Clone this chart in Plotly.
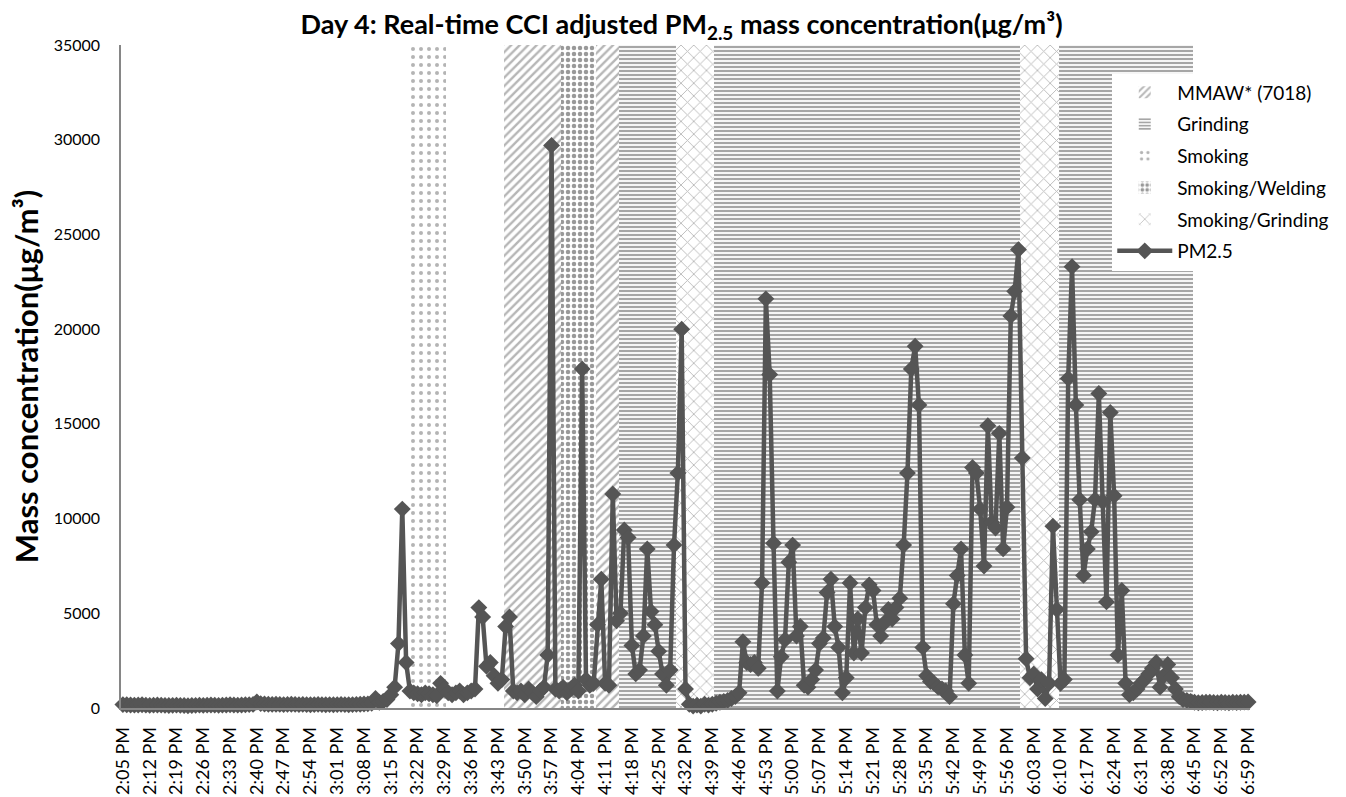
import plotly.graph_objects as go

# ---------------- categories (one per minute, 2:05 PM .. 6:59 PM) ----------------
start_hour, start_min, n_minutes = 14, 5, 295
times = []
for k in range(n_minutes):
    total = start_hour * 60 + start_min + k
    h, m = divmod(total, 60)
    times.append(f"{h - 12}:{m:02d} PM")

tick_step = 7
tick_labels = times[::tick_step]

y_ticks = [0, 5000, 10000, 15000, 20000, 25000, 30000, 35000]
y_tick_labels = ["0", "5000", "10000", "15000", "20000", "25000", "30000", "35000"]

# ---------------- PM2.5 series (µg/m³) ----------------
pm25 = [
    # 2:05 - 2:39
    180, 170, 160, 150, 160, 170, 150, 140, 150, 160,
    150, 140, 130, 140, 150, 140, 130, 120, 130, 140,
    150, 140, 150, 160, 150, 140, 150, 160, 170, 160,
    150, 160, 170, 180, 190,
    # 2:40
    320,
    # 2:41 - 3:09
    230, 210, 200, 190, 200, 190, 180, 190, 200, 190,
    180, 190, 180, 170, 180, 190, 180, 170, 180, 170,
    180, 190, 180, 170, 180, 190, 200, 210, 220,
    # 3:10 - 3:19
    250, 500, 300, 350, 450, 700, 1100, 3400, 10500, 2400,
    # 3:20 - 3:37
    900, 800, 750, 700, 800, 750, 700, 650, 1300, 1000,
    800, 700, 800, 900, 700, 800, 900, 1000,
    # 3:38 - 3:47
    5300, 4800, 2200, 2400, 1700, 1300, 1500, 4300, 4800, 900,
    # 3:48 - 3:56
    800, 900, 700, 1000, 800, 600, 900, 1100, 2800,
    # 3:57
    29700,
    # 3:58 - 4:04
    1000, 900, 1100, 800, 1000, 1200, 900,
    # 4:05
    17900,
    # 4:06 - 4:12
    1500, 1200, 1300, 4400, 6800, 1300, 1200,
    # 4:13 - 4:31
    11300, 4600, 5000, 9400, 9000, 3300, 1800, 2000, 3800, 8400,
    5100, 4400, 3000, 1800, 1200, 2000, 8600, 12400, 20000,
    # 4:32 - 4:46
    1000, 200, 100, 150, 100, 200, 150, 200, 250, 300,
    350, 400, 500, 600, 800,
    # 4:47 - 4:56
    3500, 2400, 2300, 2400, 2100, 6600, 21600, 17600, 8700, 900,
    # 4:57 - 5:16
    2700, 3600, 7700, 8600, 3800, 4300, 1200, 1100, 1500, 2000,
    3400, 3700, 6100, 6800, 4300, 3200, 800, 1600, 6600, 2900,
    # 5:17 - 5:35
    4700, 2900, 5300, 6500, 6200, 4400, 3800, 4500, 5200,
    4700, 5300, 5800, 8600, 12400, 17900, 19100, 16000, 3200, 1700,
    # 5:36 - 5:59
    1400, 1300, 1100, 1000, 900, 600, 5500, 7000, 8400, 2800,
    1300, 12700, 12400, 10500, 7500, 14900, 9800, 9500, 14500, 8400,
    10600, 20700, 22000, 24200,
    # 6:00 - 6:19
    13200, 2600, 1600, 1800, 1000, 1500, 500, 1300, 9600, 5200,
    1300, 1500, 17400, 23300, 16000, 11000, 7000, 8400, 9300, 11000,
    # 6:20 - 6:44
    16600, 10900, 5600, 15600, 11200, 2800, 6200, 1300, 700, 800,
    1000, 1300, 1500, 1800, 2100, 2400, 1100, 1700, 2300, 1600,
    1000, 600, 450, 400, 350,
    # 6:45 - 6:59
    300, 280, 290, 300, 310, 290, 280, 300, 290, 280,
    300, 290, 300, 310, 320,
]
assert len(pm25) == n_minutes, len(pm25)

# ---------------- activity periods (background shading) ----------------
band_activity = ["Smoking", "MMAW* (7018)", "Smoking/Welding", "MMAW* (7018)", "Grinding",
                 "Smoking/Grinding", "Grinding", "Smoking/Grinding", "Grinding"]
band_start = ["3:20 PM", "3:45 PM", "4:00 PM", "4:09 PM", "4:15 PM",
              "4:30 PM", "4:40 PM", "6:00 PM", "6:10 PM"]
band_end = ["3:29 PM", "3:59 PM", "4:08 PM", "4:14 PM", "4:29 PM",
            "4:39 PM", "5:59 PM", "6:09 PM", "6:44 PM"]
band_top = 35000

legend_order = ["MMAW* (7018)", "Grinding", "Smoking", "Smoking/Welding", "Smoking/Grinding"]
patterns = {
    "MMAW* (7018)": dict(shape="/", fgcolor="#6e6e6e", bgcolor="white", size=6, solidity=0.4),
    "Grinding": dict(shape="-", fgcolor="#4d4d4d", bgcolor="white", size=4, solidity=0.55),
    "Smoking": dict(shape=".", fgcolor="#6a6a6a", bgcolor="white", size=8, solidity=0.2),
    "Smoking/Welding": dict(shape=".", fgcolor="#333333", bgcolor="white", size=6, solidity=0.45),
    "Smoking/Grinding": dict(shape="x", fgcolor="#7a7a7a", bgcolor="white", size=9, solidity=0.2),
}

fig = go.Figure()

for act in legend_order:
    xs, ws = [], []
    for a, s, e in zip(band_activity, band_start, band_end):
        if a != act:
            continue
        i0, i1 = times.index(s), times.index(e)
        xs.append((i0 + i1) / 2)
        ws.append(i1 - i0 + 1)
    fig.add_trace(go.Bar(
        x=xs, y=[band_top] * len(xs), width=ws, name=act, legendgroup=act,
        marker=dict(color="white", line=dict(width=0), pattern=patterns[act]),
        hoverinfo="skip",
    ))

fig.add_trace(go.Scatter(
    x=list(range(n_minutes)), y=pm25, name="PM2.5", legendgroup="pm",
    mode="lines+markers",
    line=dict(color="#555555", width=4.5),
    marker=dict(symbol="diamond", size=13, color="#555555"),
    cliponaxis=False,
    customdata=times, hovertemplate="%{customdata}: %{y}<extra></extra>",
))

FONT = "Lato"
fig.update_layout(
    width=1346, height=797,
    margin=dict(l=121, r=91, t=45, b=89),
    paper_bgcolor="white", plot_bgcolor="white",
    barmode="overlay", bargap=0,
    font=dict(family=FONT, size=19, color="#000000"),
    title=dict(
        text="Day 4: Real-time CCI adjusted PM<sub>2.5</sub> mass concentration(μg/m³)",
        font=dict(family=FONT, size=27, color="#000000", weight="bold"),
        x=0.4965, xanchor="center", xref="paper",
        y=1 - 25 / 797, yanchor="middle", yref="container",
    ),
    legend=dict(
        x=0.878, y=0.957, xanchor="left", yanchor="top",
        bgcolor="white", borderwidth=0,
        font=dict(family=FONT, size=19, color="#000000"),
        itemwidth=55, tracegroupgap=4,
    ),
    showlegend=True,
)

fig.update_xaxes(
    range=[-0.5, n_minutes - 0.5],
    tickmode="array",
    tickvals=list(range(0, n_minutes, tick_step)),
    ticktext=tick_labels,
    tickangle=-90,
    tickfont=dict(family=FONT, size=18, color="#000000"),
    showgrid=False, zeroline=False,
    showline=True, linecolor="#868686", linewidth=1.5,
    ticks="", ticklabelstandoff=10,
    automargin=False,
)
fig.update_yaxes(
    range=[0, 35000],
    tickmode="array",
    tickvals=y_ticks,
    ticktext=y_tick_labels,
    tickfont=dict(family=FONT, size=16, color="#000000"),
    showgrid=False, zeroline=False,
    showline=True, linecolor="#868686", linewidth=1.5,
    ticks="", ticklabelstandoff=16,
    title=dict(text="Mass concentration(μg/m³)",
               font=dict(family=FONT, size=31, color="#000000", weight="bold"),
               standoff=6),
    automargin=False,
)

fig.write_html("out.html", config={"displayModeBar": False},
               post_script="document.body.style.margin='0';document.body.style.overflow='hidden';")
